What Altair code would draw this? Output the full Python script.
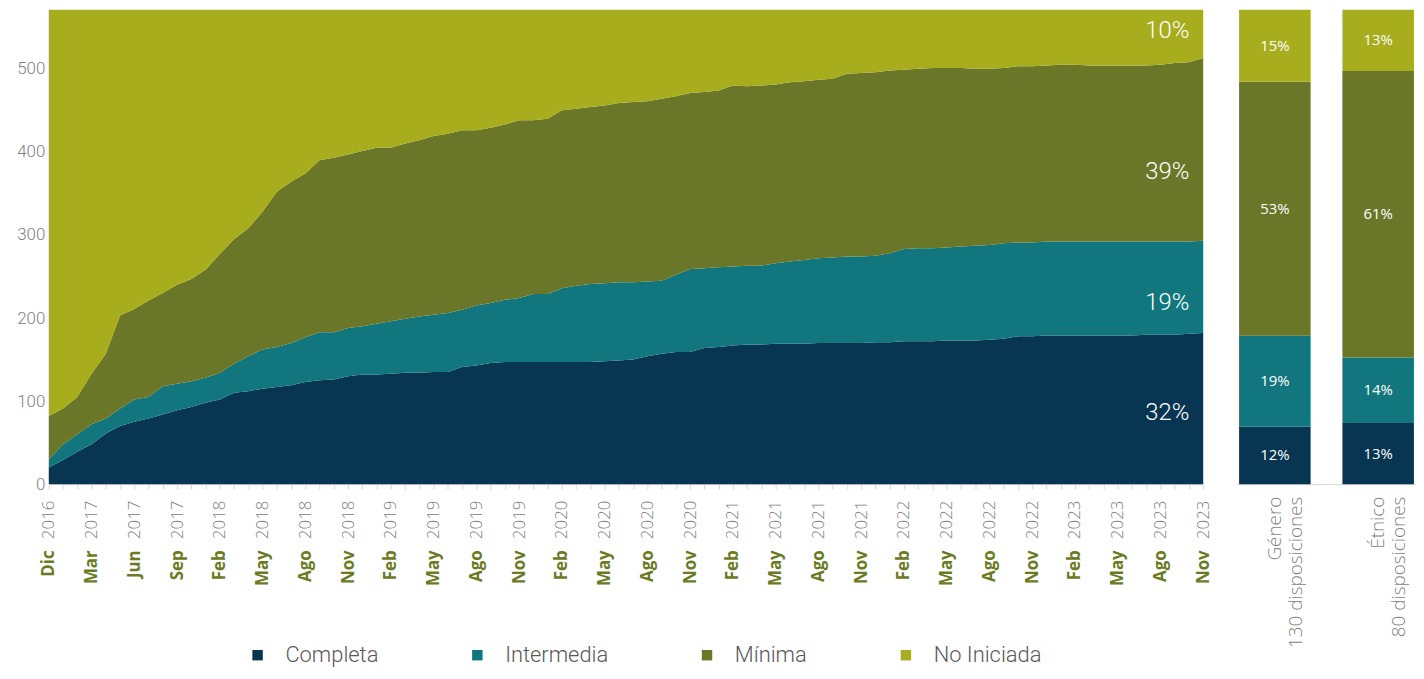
import json
import altair as alt
import pandas as pd

# ---- data ----
meses = ["Dic", "Mar", "Jun", "Sep", "Feb", "May", "Ago", "Nov", "Feb", "May", "Ago", "Nov",
         "Feb", "May", "Ago", "Nov", "Feb", "May", "Ago", "Nov", "Feb", "May", "Ago", "Nov",
         "Feb", "May", "Ago", "Nov"]
anios = ["2016", "2017", "2017", "2017", "2018", "2018", "2018", "2018", "2019", "2019", "2019", "2019",
         "2020", "2020", "2020", "2020", "2021", "2021", "2021", "2021", "2022", "2022", "2022", "2022",
         "2023", "2023", "2023", "2023"]

# cumulative boundaries of the stacked areas (number of disposiciones)
completa = [20, 29, 39, 48, 61, 70, 75, 79, 84, 89, 93, 98, 102, 110, 112, 115, 117, 119, 123, 125, 126,
            130, 132, 132, 133, 134, 134, 135, 135, 141, 143, 146, 147, 147, 147, 147, 147, 147, 147, 148, 149,
            150, 154, 157, 159, 159, 164, 165, 167, 168, 168, 169, 169, 169, 170, 170, 170, 170, 171, 171, 172,
            172, 172, 173, 173, 173, 174, 175, 178, 178, 179, 179, 179, 179, 179, 179, 179, 180, 180, 180, 181, 182]
hasta_intermedia = [30, 48, 60, 72, 79, 91, 102, 105, 118, 121, 124, 128, 134, 145, 154, 162, 165, 170, 177, 183, 183,
                    188, 190, 193, 196, 199, 202, 204, 206, 210, 215, 218, 222, 224, 229, 229, 236, 239, 241, 242, 243,
                    243, 244, 245, 252, 259, 260, 261, 262, 263, 263, 266, 268, 270, 272, 273, 274, 274, 275, 278, 283,
                    284, 284, 285, 286, 287, 288, 290, 291, 291, 292, 292, 292, 292, 292, 292, 292, 292, 292, 292, 292, 293]
hasta_minima = [82, 91, 105, 133, 157, 203, 211, 221, 230, 240, 247, 258, 277, 295, 308, 328, 352, 364, 374, 390, 393,
                397, 401, 405, 405, 410, 414, 419, 422, 426, 426, 429, 433, 438, 438, 440, 450, 452, 454, 456, 459,
                460, 461, 464, 467, 471, 472, 474, 480, 479, 480, 481, 484, 485, 487, 488, 494, 495, 496, 498, 499,
                500, 501, 501, 501, 500, 500, 501, 503, 503, 504, 505, 505, 504, 504, 504, 504, 504, 505, 507, 508, 513]
total = 571

categorias = ["Completa", "Intermedia", "Mínima", "No Iniciada"]
colores = ["#083552", "#11767d", "#6a7628", "#a7ad1d"]

etiquetas_final = ["32%", "19%", "39%", "10%"]
etiquetas_final_y = [86, 218, 376, 546]

grupos = ["Género\n130 disposiciones", "Étnico\n80 disposiciones"]
genero_pct = [12, 19, 53, 15]
etnico_pct = [13, 14, 61, 13]

# ---- tables ----
n = len(completa)
rows = []
for i in range(n):
    vals = [completa[i],
            hasta_intermedia[i] - completa[i],
            hasta_minima[i] - hasta_intermedia[i],
            total - hasta_minima[i]]
    for k, c in enumerate(categorias):
        rows.append({"idx": i, "estado": c, "orden": k, "valor": vals[k]})
df = pd.DataFrame(rows)

brow = []
for g, pcts in zip(grupos, [genero_pct, etnico_pct]):
    for k, c in enumerate(categorias):
        brow.append({"grupo": g, "estado": c, "orden": k, "pct": pcts[k], "etiqueta": f"{pcts[k]}%"})
dfb = pd.DataFrame(brow)

year_expr = f"datum.value % 3 === 0 ? {json.dumps(anios)}[datum.value / 3] : ''"
month_expr = f"datum.value % 3 === 0 ? {json.dumps(meses)}[datum.value / 3] : ''"

x_scale = alt.Scale(domain=[0, n - 1], nice=False, zero=False)
y_scale = alt.Scale(domain=[0, total], nice=False)
color_scale = alt.Scale(domain=categorias, range=colores)
tick_vals = list(range(n))

y_axis = alt.Axis(values=[0, 100, 200, 300, 400, 500], labelFontSize=17, labelColor="#808080",
                  labelFont="Roboto", labelFontWeight=300, ticks=False, domain=False, grid=False,
                  labelPadding=4, minExtent=41, maxExtent=41, title=None)

area = alt.Chart(df).mark_area(interpolate="linear").encode(
    x=alt.X("idx:Q", scale=x_scale, title=None,
            axis=alt.Axis(orient="bottom", values=tick_vals, labelExpr=year_expr, labelAngle=-90,
                          labelFontSize=17, labelColor="#808080", labelFont="Open Sans", labelFontWeight=300,
                          tickColor="#d9d9d9", tickSize=5, domainColor="#d9d9d9", labelPadding=11,
                          labelOverlap=False, labelFlush=False, grid=False, title=None)),
    y=alt.Y("valor:Q", stack="zero", scale=y_scale, axis=y_axis, title=None),
    color=alt.Color("estado:N", scale=color_scale, sort=categorias,
                    legend=alt.Legend(orient="none", legendX=199, legendY=638, direction="horizontal",
                                      title=None, symbolType="square", symbolSize=110, symbolStrokeWidth=0,
                                      labelFontSize=22, labelFont="Roboto", labelFontWeight=300,
                                      labelColor="#595959", columnPadding=88, labelOffset=17)),
    order=alt.Order("orden:Q", sort="ascending"),
)

mes_layer = alt.Chart(pd.DataFrame({"idx": tick_vals})).mark_tick(opacity=0).encode(
    x=alt.X("idx:Q", scale=x_scale, title=None,
            axis=alt.Axis(orient="bottom", values=tick_vals, labelExpr=month_expr, labelAngle=-90,
                          labelFontSize=17, labelColor="#6b7b23", labelFont="Open Sans", labelFontWeight="bold",
                          ticks=False, domain=False, labelPadding=66, labelOverlap=False, labelFlush=False,
                          grid=False, title=None)),
)

notas = alt.Chart(pd.DataFrame({"idx": [n - 1] * 4, "y": etiquetas_final_y, "t": etiquetas_final})).mark_text(
    align="right", baseline="middle", dx=-14, fontSize=24, font="Roboto", fontWeight=300, color="white"
).encode(
    x=alt.X("idx:Q", scale=x_scale, axis=None),
    y=alt.Y("y:Q", scale=y_scale, axis=y_axis, title=None),
    text="t:N",
)

main = alt.layer(area, mes_layer, notas).resolve_axis(x="independent").properties(width=1161, height=477)

bbase = alt.Chart(dfb)
barras = bbase.mark_bar().encode(
    x=alt.X("grupo:N", sort=grupos, scale=alt.Scale(paddingInner=0.3077, paddingOuter=0.02), title=None,
            axis=alt.Axis(labelExpr="split(datum.label, '\\n')", labelAngle=-90, labelFontSize=19,
                          labelColor="#7f7f7f", labelFont="Open Sans", labelFontWeight=300, labelLineHeight=21,
                          ticks=False, domainColor="#d9d9d9", labelPadding=12, title=None)),
    y=alt.Y("pct:Q", stack="normalize", axis=None),
    color=alt.Color("estado:N", scale=color_scale, legend=None),
    order=alt.Order("orden:Q", sort="ascending"),
)
btexto = bbase.transform_joinaggregate(
    tot="sum(pct)", groupby=["grupo"]
).transform_window(
    cum="sum(pct)", sort=[alt.SortField("orden")], groupby=["grupo"], frame=[None, 0]
).transform_calculate(
    mid="(datum.cum - datum.pct / 2) / datum.tot"
).mark_text(color="white", fontSize=15, font="Open Sans").encode(
    x=alt.X("grupo:N", sort=grupos),
    y=alt.Y("mid:Q", scale=alt.Scale(domain=[0, 1])),
    text="etiqueta:N",
)
derecha = alt.layer(barras, btexto).properties(width=180, height=477)

chart = alt.hconcat(main, derecha, spacing=26).resolve_scale(color="independent").properties(
    padding={"left": 0, "top": 0, "right": 0, "bottom": 0}
).configure_view(stroke=None)

chart.save("out.html", embed_options={"renderer": "svg", "actions": False})
